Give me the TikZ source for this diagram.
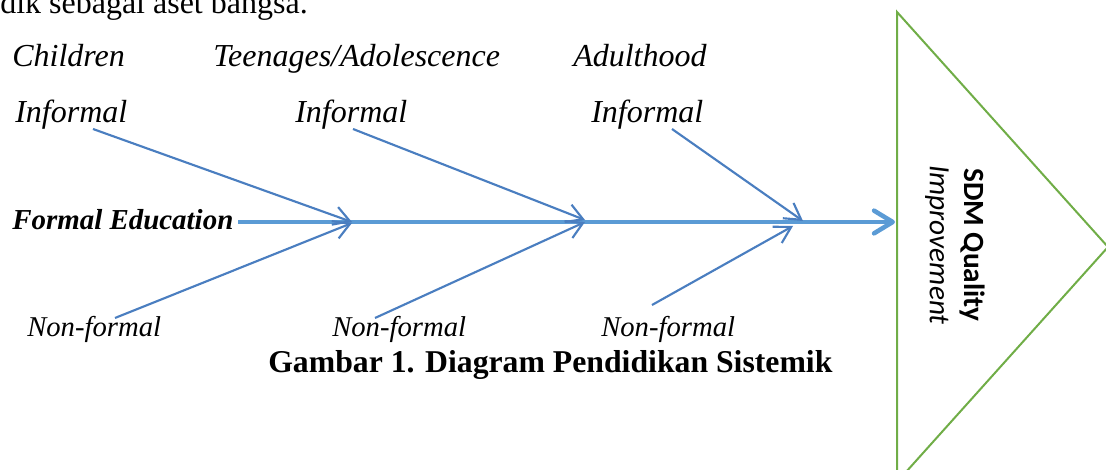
\documentclass[tikz,border=0pt]{standalone}
\usepackage{fontspec}
\setmainfont{Liberation Serif}
\newfontfamily\calibri{Carlito}
\usetikzlibrary{arrows.meta}
\definecolor{spineblue}{RGB}{91,155,213}
\definecolor{boneblue}{RGB}{74,126,192}
\definecolor{trigreen}{RGB}{112,173,71}
\begin{document}
\begin{tikzpicture}[x=0.75pt,y=-0.75pt,
  lbl/.style={inner sep=0pt,anchor=base west,font=\fontsize{24}{28}\selectfont\itshape},
  nf/.style={inner sep=0pt,anchor=base west,font=\fontsize{21.5}{26}\selectfont\itshape},
  bone/.style={boneblue,line width=1.6pt,-{Straight Barb[length=12pt,width=14pt]}}]
  \useasboundingbox (0,0) rectangle (1106,470);
  % text above
  \node[inner sep=0pt,anchor=base west,font=\fontsize{24}{28}\selectfont] (prev) at (0,14) {dik sebagai aset bangsa.};
  % ages
  \node[lbl] (child) at (12,67) {Children};
  \node[lbl] (teen) at (213,67) {Teenages/Adolescence};
  \node[lbl] (adult) at (573,67) {Adulthood};
  \node[lbl] (inf1) at (15,123) {Informal};
  \node[lbl] (inf2) at (295,123) {Informal};
  \node[lbl] (inf3) at (591,123) {Informal};
  \node[nf] (non1) at (27,336) {Non-formal};
  \node[nf] (non2) at (332,336) {Non-formal};
  \node[nf] (non3) at (601,336) {Non-formal};
  \node[inner sep=0pt,anchor=base west,font=\fontsize{21.7}{26}\selectfont\bfseries\itshape] (formal) at (12,230) {Formal Education};
  \node[inner sep=0pt,anchor=base west,font=\fontsize{23.8}{28}\selectfont\bfseries] (caption) at (268,372) {Gambar 1. Diagram Pendidikan Sistemik};

  % triangle
  \draw[trigreen,line width=1.5pt] (897,12) -- (1108,247) -- (897,482) -- cycle;
  \node[rotate=-90,align=center,font=\calibri\fontsize{22}{26}\selectfont] (sdm) at (955,245)
    {\textbf{SDM Quality}\\\textit{Improvement}};

  % spine
  \coordinate (s0) at (238,222);
  \coordinate (s1) at (895,222);
  \draw[spineblue,line width=3.4pt,-{Straight Barb[length=14pt,width=17pt,round]}] (s0) -- (s1);

  % bones
  \coordinate (a1) at (93,129);  \coordinate (e1) at (352,222);
  \coordinate (b1) at (115,318); \coordinate (f1) at (352,223);
  \coordinate (a2) at (353,129); \coordinate (e2) at (585,220);
  \coordinate (b2) at (375,318); \coordinate (f2) at (585,222);
  \coordinate (a3) at (672,129); \coordinate (e3) at (803,221);
  \coordinate (b3) at (652,305); \coordinate (f3) at (793,226);
  \draw[bone] (a1) -- (e1);
  \draw[bone] (b1) -- (f1);
  \draw[bone] (a2) -- (e2);
  \draw[bone] (b2) -- (f2);
  \draw[bone] (a3) -- (e3);
  \draw[bone] (b3) -- (f3);
\end{tikzpicture}
\end{document}
